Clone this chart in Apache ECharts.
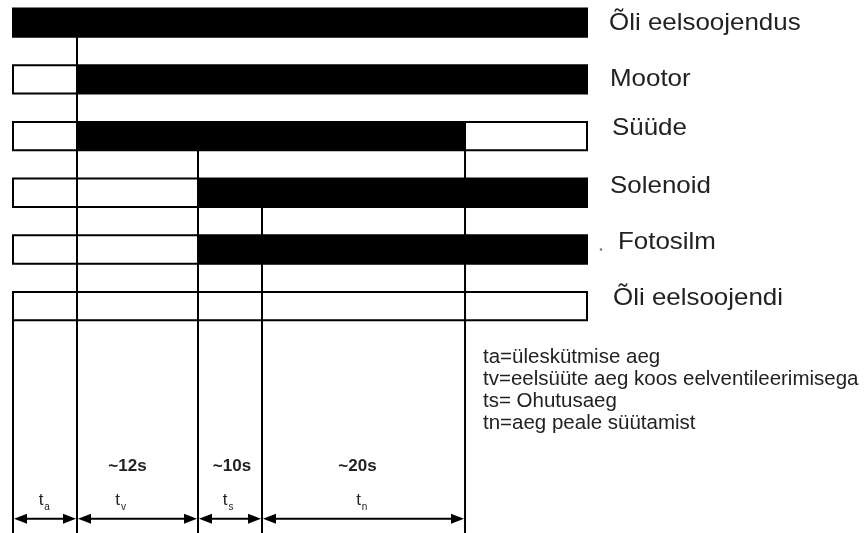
<!DOCTYPE html>
<html><head><meta charset="utf-8">
<script src="https://cdn.jsdelivr.net/npm/echarts@6.0.0/dist/echarts.min.js"></script>
<style>html,body{margin:0;padding:0;background:#fff}#c{width:868px;height:533px}</style>
</head><body><div id="c"></div>
<script>
// ---- data (schematic time axis, 0..100 = whole sequence) ----
const rowNames = ['Õli eelsoojendus', 'Mootor', 'Süüde', 'Solenoid', 'Fotosilm', 'Õli eelsoojendi'];
// segments per row: [start, end, on(1)/off(0)]
const rowSegments = [
  [[0, 100, 1]],
  [[0, 11.15, 0], [11.15, 100, 1]],
  [[0, 11.15, 0], [11.15, 78.75, 1], [78.75, 100, 0]],
  [[0, 32.23, 0], [32.23, 100, 1]],
  [[0, 32.23, 0], [32.23, 100, 1]],
  [[0, 100, 0]]
];
const phaseEdges = [0, 11.15, 32.23, 43.38, 78.75];
const phaseSymbols = ['a', 'v', 's', 'n'];
const phaseDurations = ['', '~12s', '~10s', '~20s'];
const edgeLineStartRow = [5, 0, 2, 3, 2];
const notes = ['ta=üleskütmise aeg', 'tv=eelsüüte aeg koos eelventileerimisega', 'ts= Ohutusaeg', 'tn=aeg peale süütamist'];

// ---- layout / style ----
const FONT = '"Liberation Sans", Arial, sans-serif';
const BAR_HALF = 0.25;
const Y_DUR = 7.82, Y_SYM = 8.42, Y_ARROW = 8.75, Y_END = 9.0;
const labelDx = [22, 23, 25, 23, 31, 26];
const labelDy = [1, 0, -8, -6, -7, -8];
const durDx = [0, -10, 2, -6];
const symDx = [-4, -20, -5, -5];

const segData = [];
rowSegments.forEach((segs, r) => segs.forEach(s => segData.push([r, s[0], s[1], s[2]])));
const lineData = phaseEdges.map((x, i) => [x, edgeLineStartRow[i]]);
const phaseData = phaseSymbols.map((s, i) => [phaseEdges[i], phaseEdges[i + 1], i]);
const labelData = rowNames.map((n, i) => [100, i]);

const chart = echarts.init(document.getElementById('c'), null, {renderer: 'canvas'});
chart.setOption({
  animation: false,
  backgroundColor: '#fff',
  grid: {left: 13, right: 281, top: 0, bottom: 0},
  xAxis: {type: 'value', min: 0, max: 100, show: false},
  yAxis: {type: 'value', min: -0.4, max: 9.0, inverse: true, show: false},
  graphic: notes.map((t, i) => ({
    type: 'text', left: 483, top: 347 + i * 22,
    style: {text: t, fill: '#222', font: '20.5px ' + FONT}
  })),
  series: [
    {
      type: 'custom', z: 2, data: segData,
      renderItem: (params, api) => {
        const r = api.value(0), s = api.value(1), e = api.value(2), on = api.value(3);
        const p1 = api.coord([s, r - BAR_HALF]), p2 = api.coord([e, r + BAR_HALF]);
        return {type: 'rect', shape: {x: p1[0], y: p1[1], width: p2[0] - p1[0], height: p2[1] - p1[1]},
          style: {fill: on ? '#000' : '#fff', stroke: '#000', lineWidth: 2}};
      }
    },
    {
      type: 'custom', z: 3, data: lineData,
      renderItem: (params, api) => {
        const x = api.value(0), r = api.value(1);
        const a = api.coord([x, r + BAR_HALF]), b = api.coord([x, Y_END]);
        return {type: 'line', shape: {x1: a[0], y1: a[1], x2: b[0], y2: b[1]}, style: {stroke: '#000', lineWidth: 2}};
      }
    },
    {
      type: 'custom', z: 4, data: phaseData,
      renderItem: (params, api) => {
        const s = api.value(0), e = api.value(1), i = api.value(2);
        const a = api.coord([s, Y_ARROW]), b = api.coord([e, Y_ARROW]);
        const y = a[1], x1 = a[0] + 1, x2 = b[0] - 1, hl = 13, hw = 5;
        const mid = (a[0] + b[0]) / 2;
        const yd = api.coord([s, Y_DUR])[1], ys = api.coord([s, Y_SYM])[1];
        const children = [
          {type: 'line', shape: {x1: x1 + 4, y1: y, x2: x2 - 4, y2: y}, style: {stroke: '#000', lineWidth: 2}},
          {type: 'polygon', shape: {points: [[x1, y], [x1 + hl, y - hw], [x1 + hl, y + hw]]}, style: {fill: '#000'}},
          {type: 'polygon', shape: {points: [[x2, y], [x2 - hl, y - hw], [x2 - hl, y + hw]]}, style: {fill: '#000'}},
          {type: 'text', x: mid + symDx[i], y: ys, style: {text: 't', fill: '#222', font: '17px ' + FONT, align: 'center', verticalAlign: 'middle'}},
          {type: 'text', x: mid + symDx[i] + 6, y: ys + 7, style: {text: phaseSymbols[i], fill: '#222', font: '10px ' + FONT, align: 'center', verticalAlign: 'middle'}}
        ];
        if (phaseDurations[i]) children.push({type: 'text', x: mid + durDx[i], y: yd,
          style: {text: phaseDurations[i], fill: '#222', font: 'bold 17px ' + FONT, align: 'center', verticalAlign: 'middle'}});
        return {type: 'group', children};
      }
    },
    {
      type: 'custom', z: 4, data: labelData,
      renderItem: (params, api) => {
        const i = params.dataIndex;
        const p = api.coord([api.value(0), api.value(1)]);
        const children = [{type: 'text', x: p[0] + labelDx[i], y: p[1] + labelDy[i], scaleX: 1.08,
          style: {text: rowNames[i], fill: '#222', font: '24px ' + FONT, align: 'left', verticalAlign: 'middle'}}];
        if (i === 4) children.push({type: 'circle', shape: {cx: p[0] + 14, cy: p[1], r: 1.3}, style: {fill: '#777'}});
        return {type: 'group', children};
      }
    }
  ]
});
</script></body></html>
